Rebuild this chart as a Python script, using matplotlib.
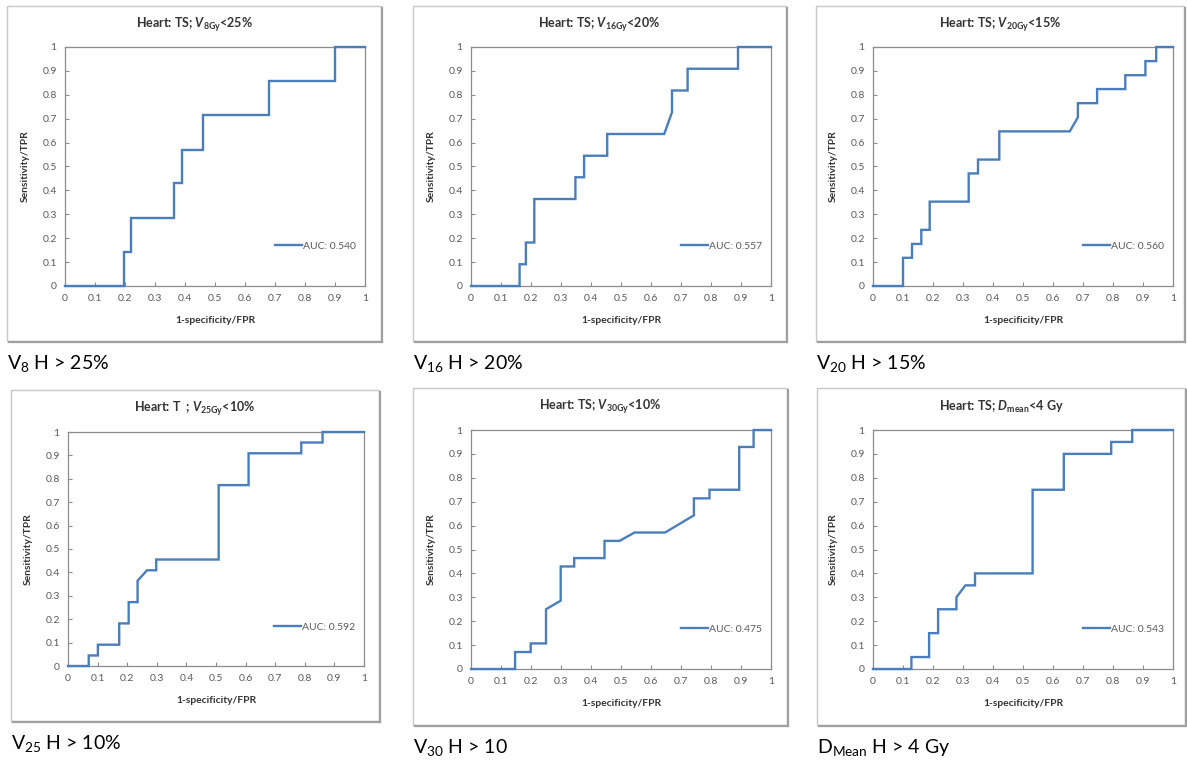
import matplotlib
matplotlib.use("Agg")
import matplotlib.pyplot as plt
from matplotlib.patches import Rectangle

plt.rcParams['font.family'] = ['Lato', 'DejaVu Sans']
plt.rcParams['mathtext.fontset'] = 'custom'
plt.rcParams['mathtext.rm'] = 'Lato:bold'
plt.rcParams['mathtext.it'] = 'Lato:bold:italic'
plt.rcParams['mathtext.sf'] = 'Lato'

W, H = 1187, 760

# ROC curves (vertices of the step lines)
fpr1 = [0, 0.196, 0.196, 0.22, 0.22, 0.364, 0.364, 0.389, 0.389, 0.461, 0.461, 0.681, 0.681, 0.9, 0.9, 1]
tpr1 = [0, 0, 0.143, 0.143, 0.286, 0.286, 0.429, 0.429, 0.571, 0.571, 0.714, 0.714, 0.857, 0.857, 1, 1]

fpr2 = [0, 0.162, 0.162, 0.183, 0.183, 0.211, 0.211, 0.348, 0.348, 0.377, 0.377, 0.454, 0.454, 0.644, 0.67,
        0.67, 0.722, 0.722, 0.89, 0.89, 1]
tpr2 = [0, 0, 0.091, 0.091, 0.182, 0.182, 0.364, 0.364, 0.455, 0.455, 0.545, 0.545, 0.636, 0.636, 0.727,
        0.818, 0.818, 0.909, 0.909, 1, 1]

fpr3 = [0, 0.1, 0.1, 0.13, 0.13, 0.161, 0.161, 0.189, 0.189, 0.319, 0.319, 0.35, 0.35, 0.421, 0.421, 0.656,
        0.683, 0.683, 0.747, 0.747, 0.841, 0.841, 0.908, 0.908, 0.944, 0.944, 1]
tpr3 = [0, 0, 0.118, 0.118, 0.176, 0.176, 0.235, 0.235, 0.353, 0.353, 0.471, 0.471, 0.529, 0.529, 0.647, 0.647,
        0.706, 0.765, 0.765, 0.824, 0.824, 0.882, 0.882, 0.941, 0.941, 1, 1]

fpr4 = [0, 0.07, 0.07, 0.101, 0.101, 0.173, 0.173, 0.205, 0.205, 0.235, 0.235, 0.267, 0.298, 0.298, 0.509,
        0.509, 0.61, 0.61, 0.788, 0.788, 0.86, 0.86, 1]
tpr4 = [0, 0, 0.045, 0.045, 0.091, 0.091, 0.182, 0.182, 0.273, 0.273, 0.364, 0.409, 0.409, 0.455, 0.455,
        0.773, 0.773, 0.909, 0.909, 0.955, 0.955, 1, 1]

fpr5 = [0, 0.147, 0.147, 0.199, 0.199, 0.25, 0.25, 0.299, 0.299, 0.344, 0.344, 0.445, 0.445, 0.495, 0.545,
        0.647, 0.743, 0.743, 0.795, 0.795, 0.894, 0.894, 0.942, 0.942, 1]
tpr5 = [0, 0, 0.071, 0.071, 0.107, 0.107, 0.25, 0.286, 0.429, 0.429, 0.464, 0.464, 0.536, 0.536, 0.571,
        0.571, 0.643, 0.714, 0.714, 0.75, 0.75, 0.929, 0.929, 1, 1]

fpr6 = [0, 0.128, 0.128, 0.187, 0.187, 0.217, 0.217, 0.278, 0.278, 0.308, 0.34, 0.34, 0.532, 0.532, 0.636,
        0.636, 0.794, 0.794, 0.864, 0.864, 1]
tpr6 = [0, 0, 0.05, 0.05, 0.15, 0.15, 0.25, 0.25, 0.3, 0.35, 0.35, 0.4, 0.4, 0.75, 0.75, 0.9, 0.9, 0.95,
        0.95, 1, 1]

auc = ["0.540", "0.557", "0.560", "0.592", "0.475", "0.543"]
titles = [r"Heart: TS; $V_{\mathrm{8Gy}}$<25%",
          r"Heart: TS; $V_{\mathrm{16Gy}}$<20%",
          r"Heart: TS; $V_{\mathrm{20Gy}}$<15%",
          r"Heart: T  ; $V_{\mathrm{25Gy}}$<10%",
          r"Heart: TS; $V_{\mathrm{30Gy}}$<10%",
          r"Heart: TS; $D_{\mathrm{mean}}$<4 Gy"]
captions = [r"V$_{\mathsf{8}}$ H > 25%", r"V$_{\mathsf{16}}$ H > 20%", r"V$_{\mathsf{20}}$ H > 15%",
            r"V$_{\mathsf{25}}$ H > 10%", r"V$_{\mathsf{30}}$ H > 10", r"D$_{\mathsf{Mean}}$ H > 4 Gy"]
tick_vals = [0, 0.1, 0.2, 0.3, 0.4, 0.5, 0.6, 0.7, 0.8, 0.9, 1]
tick_labels = ["0", "0.1", "0.2", "0.3", "0.4", "0.5", "0.6", "0.7", "0.8", "0.9", "1"]

curves = [(fpr1, tpr1), (fpr2, tpr2), (fpr3, tpr3), (fpr4, tpr4), (fpr5, tpr5), (fpr6, tpr6)]

# layout in pixels: plot area (x0, x1, ytop, ybottom), outer frame (x0, x1, ytop, ybottom)
plots = [(65, 365, 47, 286), (471, 771, 47, 286), (873, 1173, 47, 286),
         (68, 364, 432, 666), (471, 771, 430, 669), (873, 1173, 430, 669)]
frames = [(7, 381, 6, 341), (413, 786, 6, 341), (816, 1184, 6, 341),
          (11, 379, 390, 721), (413, 787, 388, 725), (817, 1185, 388, 725)]

fig = plt.figure(figsize=(W / 100, H / 100), dpi=100)
fig.patch.set_facecolor("white")

def fx(px):
    return px / W

def fy(py):
    return 1 - py / H

blue = "#4a7ebb"
grey = "#8c8c8c"

for i in range(6):
    px0, px1, pt, pb = plots[i]
    qx0, qx1, qt, qb = frames[i]

    # outer chart frame with a little shadow on right/bottom
    fig.add_artist(Rectangle((fx(qx0), fy(qb)), fx(qx1) - fx(qx0), fy(qt) - fy(qb),
                             transform=fig.transFigure, fill=False, ec="#c8c8c8", lw=1.0))
    fig.add_artist(plt.Line2D([fx(qx1 + 1), fx(qx1 + 1)], [fy(qb + 1), fy(qt + 2)],
                              transform=fig.transFigure, color="#a0a0a0", lw=1.6))
    fig.add_artist(plt.Line2D([fx(qx0 + 2), fx(qx1 + 1)], [fy(qb + 1), fy(qb + 1)],
                              transform=fig.transFigure, color="#a0a0a0", lw=1.6))

    ax = fig.add_axes([fx(px0), fy(pb), fx(px1) - fx(px0), fy(pt) - fy(pb)])
    fpr, tpr = curves[i]
    ax.plot(fpr, tpr, color=blue, lw=1.7, label="AUC: " + auc[i], solid_joinstyle="miter",
            clip_on=False, zorder=5)
    ax.set_xlim(0, 1)
    ax.set_ylim(0, 1)
    ax.set_xticks(tick_vals)
    ax.set_xticklabels(tick_labels)
    ax.set_yticks(tick_vals)
    ax.set_yticklabels(tick_labels)
    ax.tick_params(direction="in", length=3, width=0.8, color=grey, labelcolor="#595959",
                   labelsize=7.5, pad=6)
    for s in ax.spines.values():
        s.set_color(grey)
        s.set_linewidth(0.9)
    ax.set_xlabel("1-specificity/FPR", fontsize=7.4, fontweight="bold", color="#333333", labelpad=9)
    ax.set_ylabel("Sensitivity/TPR", fontsize=7.4, fontweight="bold", color="#333333", labelpad=9)
    ax.legend(loc="center right", bbox_to_anchor=(0.985, 0.167), frameon=False, fontsize=7.5,
              handlelength=2.6, handletextpad=0.15, borderaxespad=0, labelcolor="#595959")

    fig.text(fx((qx0 + qx1) / 2), fy(qt + 19), titles[i], ha="center", va="center",
             fontsize=9, fontweight="bold", color="#333333")
    fig.text(fx(qx0), fy(qb + 22), captions[i], ha="left", va="center", fontsize=14, color="black")

fig.savefig("out.png", dpi=100)
